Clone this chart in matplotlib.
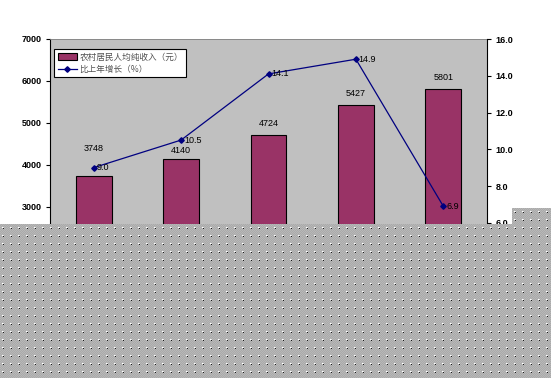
import numpy as np
import matplotlib
matplotlib.use("Agg")
import matplotlib.pyplot as plt
from matplotlib.ticker import FormatStrFormatter

plt.rcParams['font.family'] = ['Liberation Sans', 'Noto Sans CJK SC', 'DejaVu Sans']

# data
years = ["2005", "2006", "2007", "2008", "2009"]
income = [3748, 4140, 4724, 5427, 5801]
growth = [9.0, 10.5, 14.1, 14.9, 6.9]
bar_name = "农村居民人均纯收入（元）"
line_name = "比上年增长（%）"

BAR_COLOR = "#993366"
LINE_COLOR = "#000080"
PLOT_BG = "#C0C0C0"

W, H, DPI = 551, 378, 100
fig = plt.figure(figsize=(W / DPI, H / DPI), dpi=DPI)
fig.patch.set_facecolor("white")

# plot area in pixels: x 50..487, y 39..333 (from top)
ax = fig.add_axes([50 / W, (H - 333) / H, 437 / W, 294 / H])
ax.set_facecolor(PLOT_BG)
x = np.arange(len(years))
bars = ax.bar(x, income, width=0.41, color=BAR_COLOR, edgecolor="black",
              linewidth=0.8, label=bar_name, zorder=2)
ax.set_xlim(-0.5, len(years) - 0.5)
ax.set_ylim(0, 7000)
ax.set_yticks(np.arange(0, 7001, 1000))
ax.set_xticks(x)
ax.set_xticklabels(years)
ax.tick_params(axis='y', length=3, width=0.8, pad=3, labelsize=6.5)
for t in ax.get_yticklabels():
    t.set_fontweight("bold")
ax.spines['left'].set_color("black")
ax.spines['top'].set_color("#808080")
ax.spines['top'].set_linewidth(0.6)
ax.spines['right'].set_visible(False)

# value labels over the bars (first one was lifted to clear the line label)
bar_label_pad = [13, 0, 2, 2, 2]
for xi, v, pad in zip(x, income, bar_label_pad):
    ax.annotate(str(v), (xi, v), xytext=(0, 3 + pad), textcoords="offset points",
                ha="center", va="bottom", fontsize=6.5, color="black")

ax2 = ax.twinx()
ax2.plot(x, growth, color=LINE_COLOR, linewidth=0.9, marker="D",
         markersize=2.8, label=line_name, zorder=3)
ax2.set_ylim(0, 16)
ax2.set_yticks(np.arange(0, 16.1, 2.0))
ax2.yaxis.set_major_formatter(FormatStrFormatter("%.1f"))
ax2.tick_params(axis='y', length=3, width=0.8, pad=3, labelsize=6.5)
for t in ax2.get_yticklabels():
    t.set_fontweight("bold")
for s in ["left", "top", "bottom"]:
    ax2.spines[s].set_visible(False)
ax2.spines['right'].set_color("black")
for xi, v in zip(x, growth):
    ax2.annotate(f"{v:.1f}", (xi, v), xytext=(2, 0), textcoords="offset points",
                 ha="left", va="center", fontsize=6.5, color="black")

h1, l1 = ax.get_legend_handles_labels()
h2, l2 = ax2.get_legend_handles_labels()
leg = ax2.legend(h1 + h2, l1 + l2, loc="upper left", bbox_to_anchor=(0.0, 0.98),
                 fontsize=6.2, frameon=True, fancybox=False, framealpha=1,
                 edgecolor="black", handlelength=2.2, handleheight=0.8,
                 borderpad=0.4, labelspacing=0.35, handletextpad=0.3)
leg.get_frame().set_linewidth(0.8)
for t in leg.get_texts():
    t.set_color("#505050")
    t.set_family(['Noto Sans CJK SC', 'DejaVu Sans'])


# the lower part of the picture is covered by a dotted grey screen
def dot_screen(h, w):
    img = np.full((h, w, 3), 0.67)
    img[(np.add.outer(np.arange(h), np.arange(w)) % 2) == 0] = 0.72
    img[3::8, 2::8] = 1.0
    img[3::8, 3::8] = 0.9
    img[4::8, 3::8] = 0.1
    return img


fig.figimage(dot_screen(H - 224, W), xo=0, yo=0, origin="upper", zorder=10)
fig.figimage(dot_screen(16, W - 512), xo=512, yo=H - 224, origin="upper", zorder=10)

fig.savefig("out.png", dpi=DPI)
